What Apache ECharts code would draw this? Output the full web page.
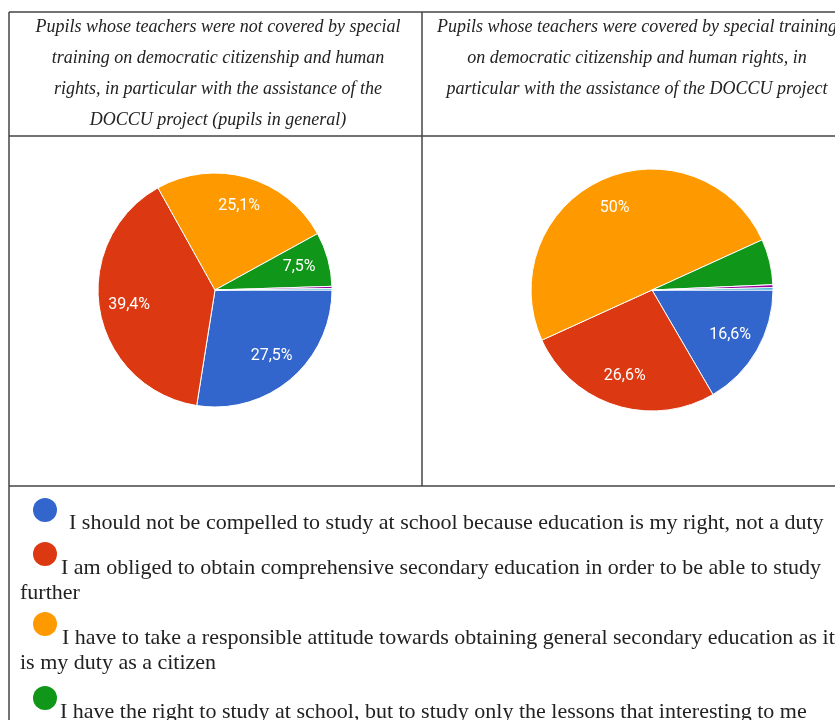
<!DOCTYPE html>
<html>
<head>
<meta charset="utf-8">
<script src="https://cdn.jsdelivr.net/npm/echarts@6/dist/echarts.min.js"></script>
<style>
  html, body { margin: 0; padding: 0; background: #fff; }
  #chart { width: 835px; height: 720px; }
</style>
</head>
<body>
<div id="chart"></div>
<script>
// answer options (last two are tiny slices, not visible in the legend)
var categories = [
  'I should not be compelled to study at school because education is my right, not a duty',
  'I am obliged to obtain comprehensive secondary education in order to be able to study further',
  'I have to take a responsible attitude towards obtaining general secondary education as it is my duty as a citizen',
  'I have the right to study at school, but to study only the lessons that interesting to me',
  'Other',
  'No answer'
];
// legend text as it wraps in the table cell
var legendLines = [
  ['I should not be compelled to study at school because education is my right, not a duty'],
  ['I am obliged to obtain comprehensive secondary education in order to be able to study', 'further'],
  ['I have to take a responsible attitude towards obtaining general secondary education as it', 'is my duty as a citizen'],
  ['I have the right to study at school, but to study only the lessons that interesting to me']
];
var colors = ['#3366cc', '#dc3912', '#ff9900', '#109618', '#990099', '#0099c6'];

// percentages
var notTrained = [27.5, 39.4, 25.1, 7.5, 0.3, 0.2];
var trained = [16.6, 26.6, 50, 6.1, 0.4, 0.3];

var headerLeft = [
  'Pupils whose teachers were not covered by special',
  'training on democratic citizenship and human',
  'rights, in particular with the assistance of the',
  'DOCCU project (pupils in general)'
];
var headerRight = [
  'Pupils whose teachers were covered by special training',
  'on democratic citizenship and human rights, in',
  'particular with the assistance of the DOCCU project'
];

var labelMin = 7; // google hides labels of small slices

var myChart = echarts.init(document.getElementById('chart'));

function pieData(values) {
  return values.map(function (v, i) {
    return { name: categories[i], value: v, itemStyle: { color: colors[i] } };
  });
}
function labelData(values) {
  return values.map(function (v, i) {
    return { name: categories[i], value: v, label: { show: v >= labelMin } };
  });
}
function pct(p) {
  return String(p.value).replace('.', ',') + '%';
}

function pieSeries(values, center, r) {
  return [{
    type: 'pie',
    center: center,
    radius: [0, r],
    startAngle: 0,
    clockwise: true,
    animation: false,
    silent: true,
    label: { show: false },
    labelLine: { show: false },
    itemStyle: { borderColor: '#fff', borderWidth: 1 },
    data: pieData(values)
  }, {
    // transparent ring only to place the labels at ~0.72 r
    type: 'pie',
    center: center,
    radius: [r * 0.44, r],
    startAngle: 0,
    clockwise: true,
    animation: false,
    silent: true,
    itemStyle: { color: 'rgba(0,0,0,0)' },
    label: {
      position: 'inside',
      formatter: pct,
      color: '#fff',
      fontFamily: 'Roboto, Arial, sans-serif',
      fontSize: 16
    },
    labelLine: { show: false },
    data: labelData(values)
  }];
}

var border = { stroke: '#444', lineWidth: 1.5 };
var graphics = [
  { type: 'line', shape: { x1: 9, y1: 12, x2: 835, y2: 12 }, style: border },
  { type: 'line', shape: { x1: 9, y1: 136, x2: 835, y2: 136 }, style: border },
  { type: 'line', shape: { x1: 9, y1: 486, x2: 835, y2: 486 }, style: border },
  { type: 'line', shape: { x1: 9, y1: 12, x2: 9, y2: 720 }, style: border },
  { type: 'line', shape: { x1: 422, y1: 12, x2: 422, y2: 486 }, style: border }
];

var headFont = 'italic 18px "Liberation Serif", serif';
headerLeft.forEach(function (t, i) {
  graphics.push({ type: 'text', x: 218, y: 27 + i * 31,
    style: { text: t, font: headFont, fill: '#222', align: 'center', verticalAlign: 'middle' } });
});
headerRight.forEach(function (t, i) {
  graphics.push({ type: 'text', x: 637, y: 27 + i * 31,
    style: { text: t, font: headFont, fill: '#222', align: 'center', verticalAlign: 'middle' } });
});

var legFont = '22px "Liberation Serif", serif';
var dotY = [510, 554, 624, 698];
var textY = [523, 568, 638, 712];
var textX = [69, 61, 62, 60];
legendLines.forEach(function (lines, i) {
  graphics.push({ type: 'circle', shape: { cx: 45, cy: dotY[i], r: 12 }, style: { fill: colors[i] } });
  lines.forEach(function (t, j) {
    graphics.push({ type: 'text', x: j === 0 ? textX[i] : 20, y: textY[i] + j * 25,
      style: { text: t, font: legFont, fill: '#222', align: 'left', verticalAlign: 'middle' } });
  });
});

var option = {
  backgroundColor: '#fff',
  animation: false,
  series: pieSeries(notTrained, [215, 290], 117).concat(pieSeries(trained, [652, 290], 121)),
  graphic: graphics
};
myChart.setOption(option);
</script>
</body>
</html>
